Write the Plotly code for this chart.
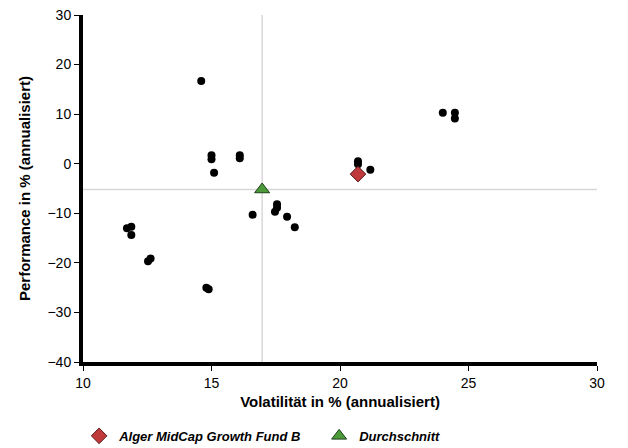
import plotly.graph_objects as go

peer_vol = [14.6, 15.0, 15.0, 15.1, 16.1, 16.1, 16.6, 17.55, 17.55, 17.47, 17.94, 18.24,
            20.7, 20.7, 21.18, 24.0, 24.47, 24.47, 11.71, 11.88, 11.88, 12.53, 12.63, 14.8, 14.89]
peer_perf = [16.7, 1.7, 0.9, -1.8, 1.7, 1.1, -10.3, -8.2, -8.9, -9.7, -10.7, -12.8,
             0.5, -0.1, -1.2, 10.3, 10.3, 9.1, -13.0, -12.7, -14.4, -19.7, -19.1, -25.0, -25.3]
fund_name = "Alger MidCap Growth Fund B"
fund_vol = [20.7]
fund_perf = [-2.1]
avg_name = "Durchschnitt"
avg_vol = [16.97]
avg_perf = [-5.2]
x_ticks = [10, 15, 20, 25, 30]
y_ticks = [-40, -30, -20, -10, 0, 10, 20, 30]

fig = go.Figure()
fig.add_trace(go.Scatter(x=peer_vol, y=peer_perf, mode="markers", showlegend=False,
                         marker=dict(color="black", size=8), hoverinfo="skip"))
fig.add_trace(go.Scatter(x=fund_vol, y=fund_perf, mode="markers", name=fund_name,
                         marker=dict(symbol="diamond", color="#c0393b", size=12,
                                     line=dict(color="#5a1a1a", width=1))))
fig.add_trace(go.Scatter(x=avg_vol, y=avg_perf, mode="markers", name=avg_name,
                         marker=dict(symbol="triangle-up", color="#4c9a3a", size=13,
                                     line=dict(color="#1f3f1a", width=1))))

# crosshair at the average
fig.add_shape(type="line", xref="x", yref="paper", x0=avg_vol[0], x1=avg_vol[0], y0=0, y1=1,
              line=dict(color="#d8d8d8", width=1.5), layer="below")
fig.add_shape(type="line", xref="paper", yref="y", x0=0, x1=1, y0=avg_perf[0], y1=avg_perf[0],
              line=dict(color="#d8d8d8", width=1.5), layer="below")

font_family = "Liberation Sans, Arial, sans-serif"
fig.update_layout(
    width=628, height=448,
    margin=dict(l=83, r=31, t=15, b=86, autoexpand=False),
    paper_bgcolor="white", plot_bgcolor="white",
    font=dict(family=font_family, size=14, color="black"),
    legend=dict(orientation="h", x=0.126, xanchor="left", xref="container",
                y=0.027, yanchor="middle", yref="container",
                font=dict(size=13, family=font_family, style="italic", weight="bold"),
                itemsizing="trace", itemwidth=30, entrywidth=195, entrywidthmode="pixels"),
    xaxis=dict(range=[10, 30], tickvals=x_ticks, showgrid=False, zeroline=False,
               showline=True, linecolor="black", linewidth=4, ticks="outside",
               ticklen=5, tickcolor="black", tickfont=dict(size=14),
               title=dict(text="<b>Volatilität in % (annualisiert)</b>", font=dict(size=15), standoff=8)),
    yaxis=dict(range=[-40, 30], tickvals=y_ticks, showgrid=False, zeroline=False,
               showline=True, linecolor="black", linewidth=4, ticks="outside",
               ticklen=5, tickcolor="black", tickfont=dict(size=14),
               title=dict(text="<b>Performance in % (annualisiert)</b>", font=dict(size=15), standoff=14)),
)
fig.write_html("out.html", config={"displayModeBar": False},
               post_script="document.body.style.margin='0';")
